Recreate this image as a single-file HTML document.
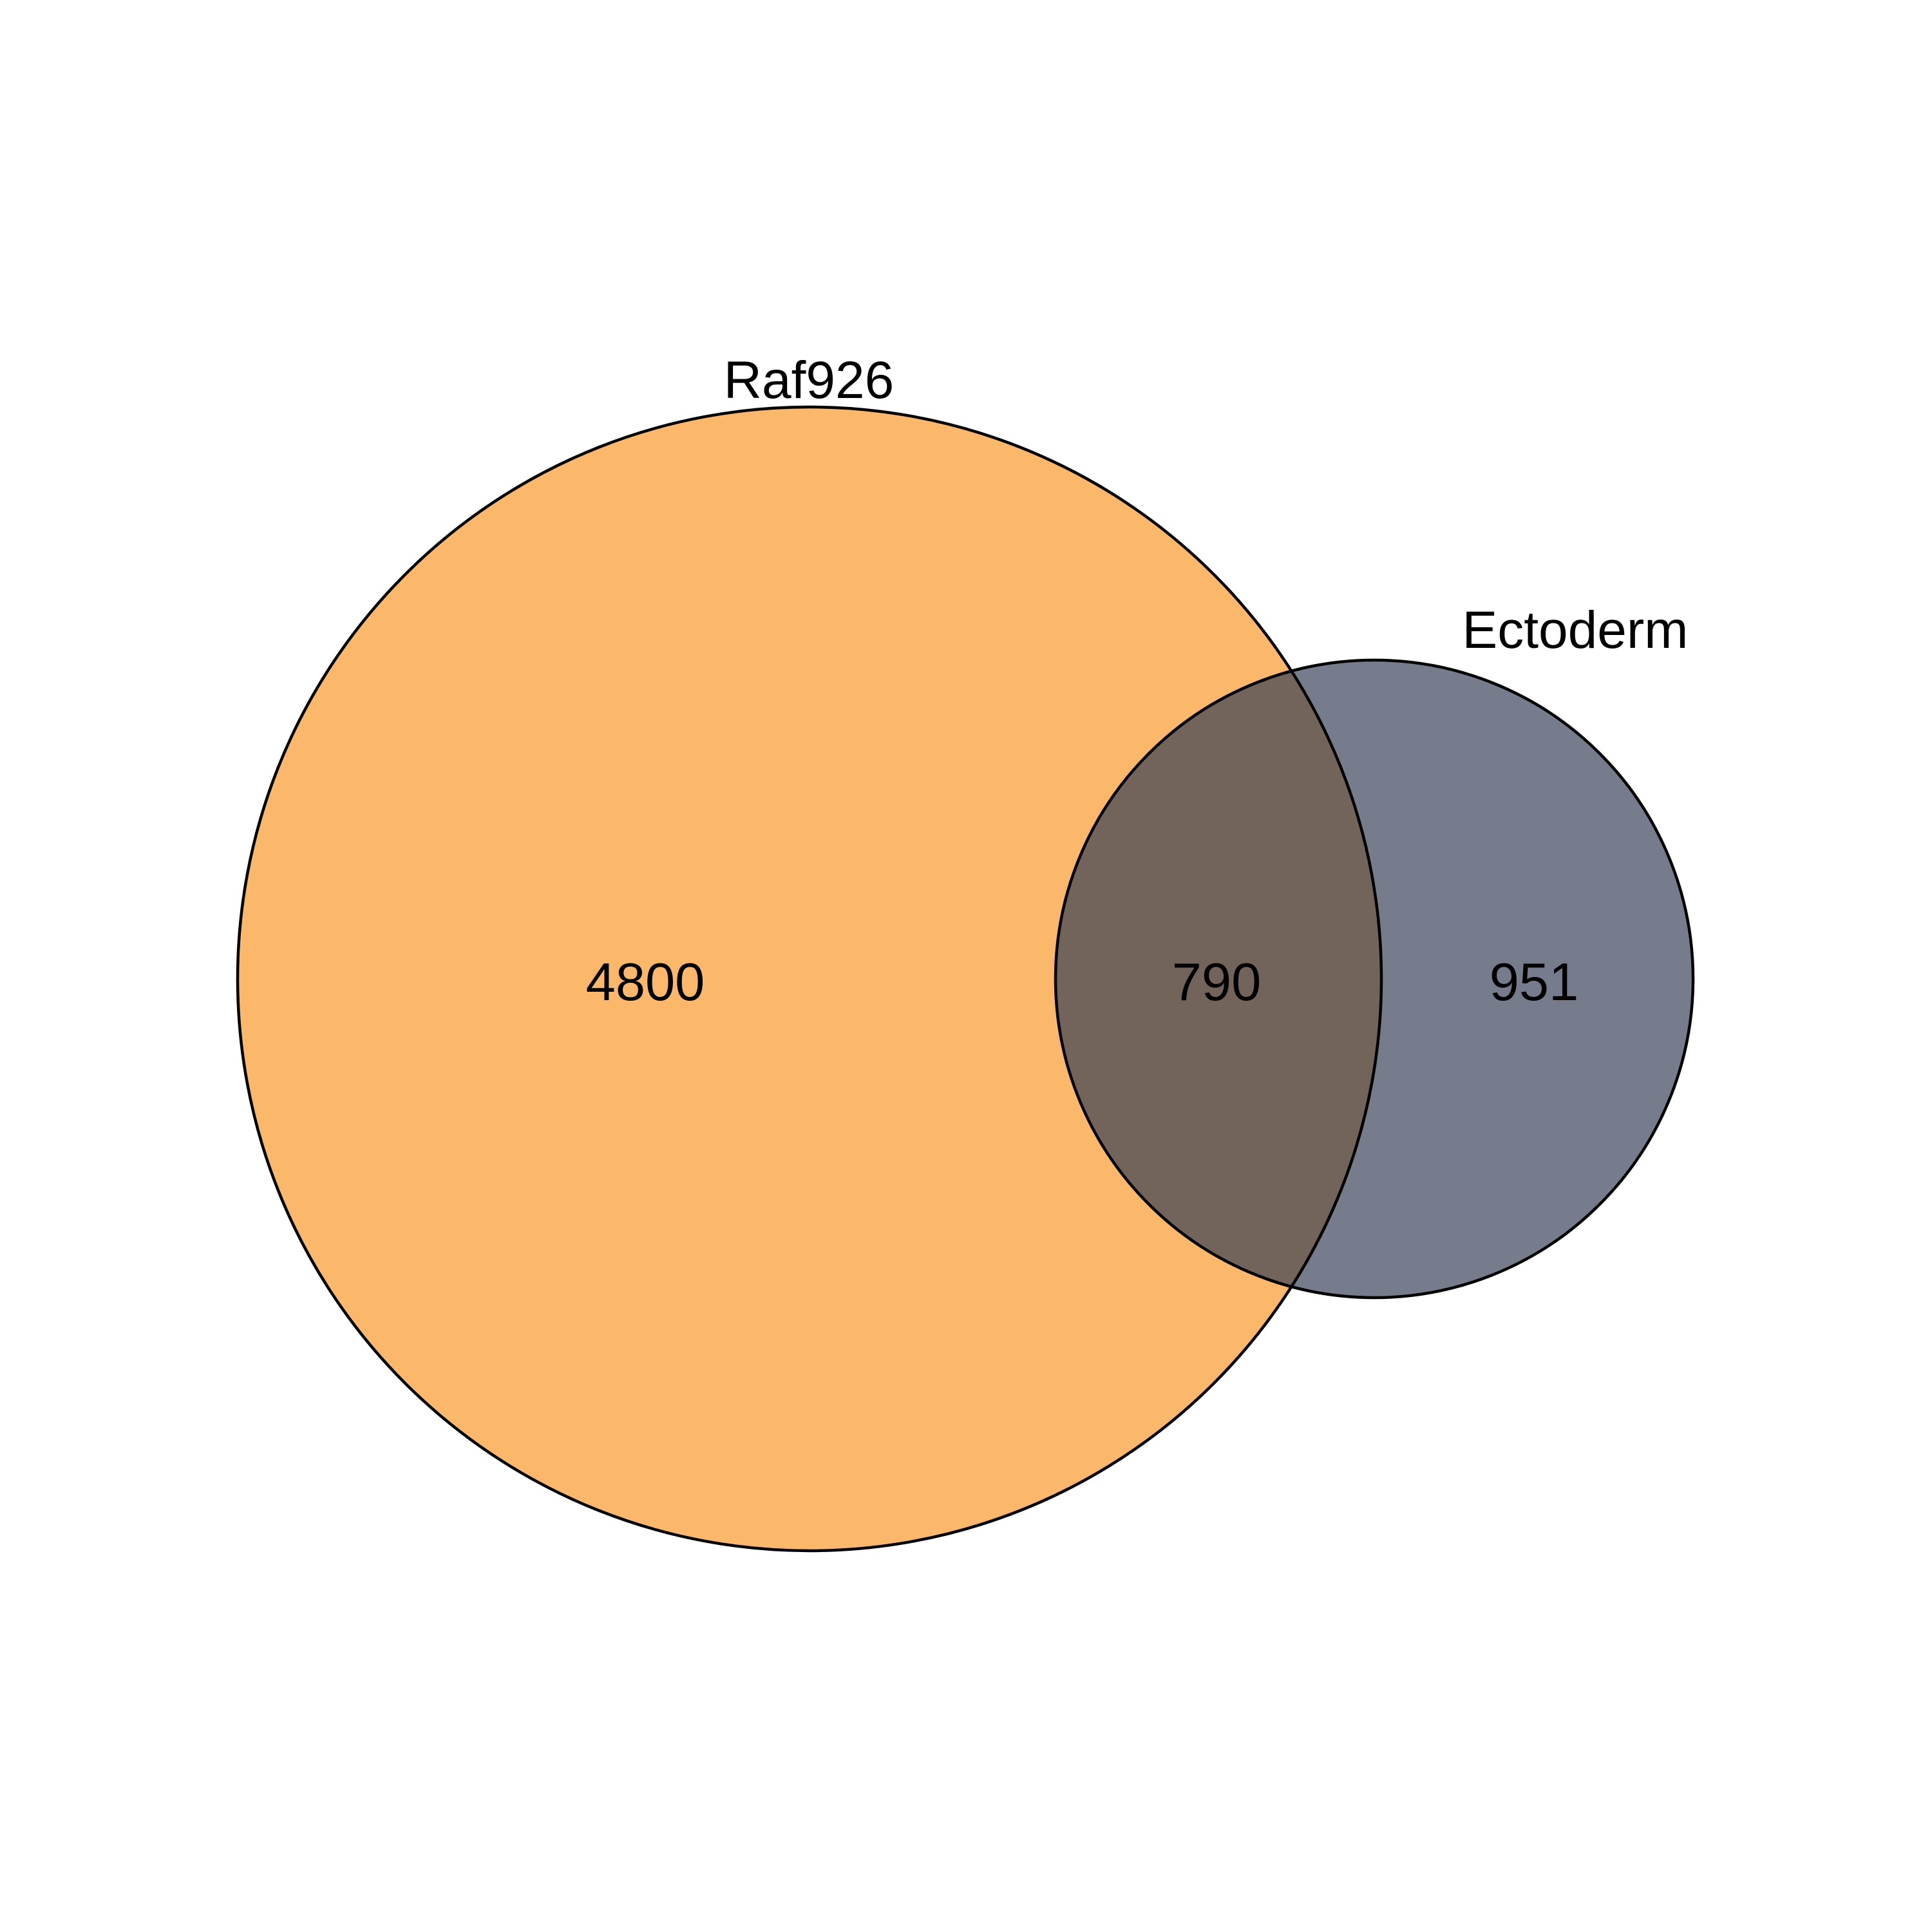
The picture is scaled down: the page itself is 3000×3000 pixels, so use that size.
<!DOCTYPE html>
<html><head><meta charset="utf-8"><style>html,body{margin:0;padding:0;background:#fff}svg{display:block}</style></head>
<body>
<svg id="venn" width="3000" height="3000" viewBox="0 0 3000 3000" xmlns="http://www.w3.org/2000/svg">
<defs><clipPath id="clipBig"><circle cx="1257" cy="1520" r="888"/></clipPath></defs>
<rect width="3000" height="3000" fill="#fff"/>
<g id="marks"></g>
</svg>
<script>
const setNames = ["Raf926", "Ectoderm"];
const regionCounts = [4800, 790, 951];
const regionNames = ["raf926-only", "overlap", "ectoderm-only"];
const NS = "http://www.w3.org/2000/svg";
const g = document.getElementById('marks');
const F = '"Liberation Sans", Arial, sans-serif';
function mk(tag, attrs){const e=document.createElementNS(NS,tag);for(const k in attrs)e.setAttribute(k,attrs[k]);g.appendChild(e);return e;}
const big = mk('circle',{cx:1257,cy:1520,r:888,fill:'#fcb86a'});


const small = mk('circle',{cx:2134,cy:1520,r:495,fill:'#767c8b'});


const inter = mk('circle',{cx:2134,cy:1520,r:495,fill:'#72645a','clip-path':'url(#clipBig)'});


const o1 = mk('circle',{cx:1257,cy:1520,r:888,fill:'none',stroke:'#000','stroke-width':4.5});


const o2 = mk('circle',{cx:2134,cy:1520,r:495,fill:'none',stroke:'#000','stroke-width':4.5});


const countX = [1002, 1889, 2382];
regionCounts.forEach((v,i)=>{
  const t = mk('text',{x:countX[i],y:1553,'text-anchor':'middle','font-family':F,'font-size':83,fill:'#000'});
  t.textContent = String(v);
  
  
});
const labelPos = [[1256,618],[2446,1006]];
setNames.forEach((n,i)=>{
  const t = mk('text',{x:labelPos[i][0],y:labelPos[i][1],'text-anchor':'middle','font-family':F,'font-size':82,fill:'#000'});
  t.textContent = n;
  
  
});
</script>
</body></html>
